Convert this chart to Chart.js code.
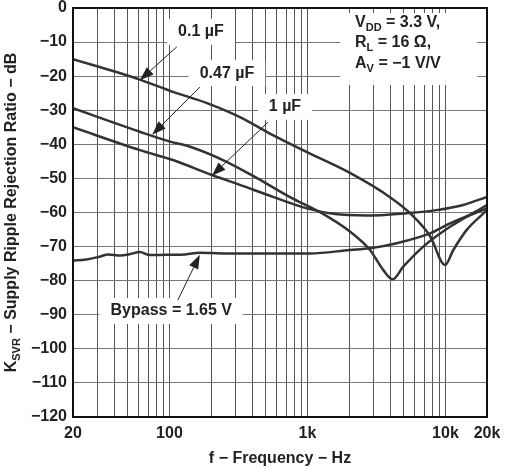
<!DOCTYPE html>
<html>
<head>
<meta charset="utf-8">
<script src="https://cdn.jsdelivr.net/npm/chart.js@4.4.0/dist/chart.umd.min.js"></script>
<style>
    html, body { margin: 0; padding: 0; background: #fff; }
    #wrap { position: relative; width: 505px; height: 468px; }
</style>
</head>
<body>
<div id="wrap"><canvas id="psrr"></canvas></div>
<script>
// --- values (frequency in Hz, KSVR in dB) ---
const freq01 = [20, 61, 106, 187, 324, 562, 993, 2032, 3963, 5534, 7727, 9930, 11400, 14260, 20000];
const ksvr01 = [-15.0, -21.0, -24.6, -27.9, -32.0, -37.3, -42.3, -48.4, -55.5, -60.2, -66.9, -75.4, -71.0, -65.1, -59.3];

const freq047 = [20, 61, 101, 141, 244, 431, 747, 1233, 2032, 2840, 3546, 4148, 4945, 6909, 10790, 20000];
const ksvr047 = [-29.4, -36.3, -39.2, -40.7, -44.6, -49.9, -55.5, -59.9, -65.6, -71.0, -76.9, -79.6, -75.9, -70.0, -64.2, -57.8];

const freq1 = [20, 61, 106, 203, 324, 562, 993, 1540, 2690, 5240, 8640, 13460, 20000];
const ksvr1 = [-35.0, -41.7, -44.6, -49.0, -51.9, -55.4, -58.8, -60.4, -60.9, -60.2, -59.3, -57.8, -55.4];

const freqBypass = [20, 25, 31, 36, 44, 52, 61, 72, 95, 130, 166, 250, 453, 1043, 2032, 2840, 4430, 7727, 10790, 20000];
const ksvrBypass = [-74.1, -73.8, -73.0, -72.3, -72.6, -72.2, -71.6, -72.5, -72.4, -72.3, -71.8, -72.0, -72.0, -72.0, -71.0, -70.5, -69.0, -66.1, -63.2, -58.8];

const xTicks = [20, 30, 40, 50, 60, 70, 80, 90, 100, 200, 300, 400, 500, 600, 700, 800, 900,
                1000, 2000, 3000, 4000, 5000, 6000, 7000, 8000, 9000, 10000, 20000];
const xTickLabels = { 20: '20', 100: '100', 1000: '1k', 10000: '10k', 20000: '20k' };

// callouts: text centre, arrow start and arrow tip, in (Hz, dB)
const callouts = [
    { text: '0.1 µF', at: [169, -7.0], from: [113, -11.4], to: [61, -21.2] },
    { text: '0.47 µF', at: [261, -19.1], from: [166, -23.2], to: [75, -37.2] },
    { text: '1 µF', at: [687, -29.0], from: [518, -33.5], to: [203, -49.2] },
    { text: 'Bypass = 1.65 V', at: [103, -88.9], from: [115, -85.7], to: [166, -72.4] }
];
const conditions = [
    [{ t: 'V' }, { t: 'DD', sub: true }, { t: ' = 3.3 V,' }],
    [{ t: 'R' }, { t: 'L', sub: true }, { t: ' = 16 Ω,' }],
    [{ t: 'A' }, { t: 'V', sub: true }, { t: ' = −1 V/V' }]
];
const conditionBox = { f: [1722, 16950], db: [-1.5, -22.6], textF: 2213, lines: [-5.6, -11.4, -17.6] };

const FONT = 'bold 16px "Liberation Sans", Arial, sans-serif';
const SUBFONT = 'bold 11px "Liberation Sans", Arial, sans-serif';
const INK = '#222';

const toPoints = (fs, ds) => fs.map((f, i) => ({ x: f, y: ds[i] }));

// draws text with subscripts, returns width
const richWidth = (ctx, parts) => parts.reduce((w, p) => {
    ctx.font = p.sub ? SUBFONT : FONT;
    return w + ctx.measureText(p.t).width;
}, 0);
const drawRich = (ctx, parts, x, y) => {
    parts.forEach(p => {
        ctx.font = p.sub ? SUBFONT : FONT;
        ctx.fillText(p.t, x, p.sub ? y + 4 : y);
        x += ctx.measureText(p.t).width;
    });
};

const drawArrow = (ctx, x1, y1, x2, y2) => {
    const a = Math.atan2(y2 - y1, x2 - x1);
    const len = 14, half = 5;
    ctx.beginPath();
    ctx.moveTo(x1, y1);
    ctx.lineTo(x2 - len * Math.cos(a), y2 - len * Math.sin(a));
    ctx.lineWidth = 1;
    ctx.strokeStyle = INK;
    ctx.stroke();
    ctx.beginPath();
    ctx.moveTo(x2, y2);
    ctx.lineTo(x2 - len * Math.cos(a) + half * Math.sin(a), y2 - len * Math.sin(a) - half * Math.cos(a));
    ctx.lineTo(x2 - len * Math.cos(a) - half * Math.sin(a), y2 - len * Math.sin(a) + half * Math.cos(a));
    ctx.closePath();
    ctx.fillStyle = INK;
    ctx.fill();
};

const notesPlugin = {
    id: 'notes',
    beforeDatasetsDraw(chart) {
        const { ctx, scales: { x, y } } = chart;
        ctx.save();
        ctx.fillStyle = '#fff';
        ctx.font = FONT;
        callouts.forEach(c => {
            const w = ctx.measureText(c.text).width;
            const cx = x.getPixelForValue(c.at[0]), cy = y.getPixelForValue(c.at[1]);
            ctx.fillRect(cx - w / 2 - 11, cy - 13, w + 22, 26);
        });
        const bx1 = x.getPixelForValue(conditionBox.f[0]), bx2 = x.getPixelForValue(conditionBox.f[1]);
        const by1 = y.getPixelForValue(conditionBox.db[0]), by2 = y.getPixelForValue(conditionBox.db[1]);
        ctx.fillRect(bx1, by1, bx2 - bx1, by2 - by1);
        ctx.restore();
    },
    afterDatasetsDraw(chart) {
        const { ctx, scales: { x, y } } = chart;
        ctx.save();
        ctx.textAlign = 'center';
        ctx.textBaseline = 'middle';
        callouts.forEach(c => {
            ctx.fillStyle = INK;
            ctx.font = FONT;
            ctx.fillText(c.text, x.getPixelForValue(c.at[0]), y.getPixelForValue(c.at[1]));
            drawArrow(ctx, x.getPixelForValue(c.from[0]), y.getPixelForValue(c.from[1]),
                x.getPixelForValue(c.to[0]), y.getPixelForValue(c.to[1]));
        });
        ctx.textAlign = 'left';
        ctx.textBaseline = 'alphabetic';
        ctx.fillStyle = INK;
        conditions.forEach((line, i) => {
            drawRich(ctx, line, x.getPixelForValue(conditionBox.textF), y.getPixelForValue(conditionBox.lines[i]));
        });
        ctx.restore();
    },
    afterDraw(chart) {
        const { ctx, chartArea: a } = chart;
        ctx.save();
        ctx.strokeStyle = '#111';
        ctx.lineWidth = 2;
        ctx.strokeRect(a.left, a.top, a.right - a.left, a.bottom - a.top);
        // y title with subscript
        const title = [{ t: 'K' }, { t: 'SVR', sub: true }, { t: ' − Supply Ripple Rejection Ratio − dB' }];
        ctx.translate(16, (a.top + a.bottom) / 2);
        ctx.rotate(-Math.PI / 2);
        ctx.fillStyle = INK;
        ctx.textBaseline = 'alphabetic';
        const w = richWidth(ctx, title);
        drawRich(ctx, title, -w / 2, 0);
        ctx.restore();
    }
};

const lineStyle = { borderColor: '#333', borderWidth: 2.5, pointRadius: 0, fill: false, cubicInterpolationMode: 'monotone' };

new Chart(document.getElementById('psrr'), {
    type: 'line',
    data: {
        datasets: [
            { label: '0.1 µF', data: toPoints(freq01, ksvr01), ...lineStyle },
            { label: '0.47 µF', data: toPoints(freq047, ksvr047), ...lineStyle },
            { label: '1 µF', data: toPoints(freq1, ksvr1), ...lineStyle },
            { label: 'Bypass = 1.65 V', data: toPoints(freqBypass, ksvrBypass), ...lineStyle }
        ]
    },
    options: {
        responsive: true,
        maintainAspectRatio: false,
        animation: false,
        layout: { padding: { top: 8, right: 18, bottom: 0, left: 0 } },
        plugins: { legend: { display: false }, tooltip: { enabled: false } },
        scales: {
            x: {
                type: 'logarithmic',
                min: 20,
                max: 20000,
                afterBuildTicks: (axis) => { axis.ticks = xTicks.map(v => ({ value: v })); },
                afterFit: (axis) => { axis.height = 51; axis.paddingLeft = 0; axis.paddingRight = 0; },
                grid: { color: '#555', lineWidth: 1, drawTicks: false },
                border: { display: false },
                ticks: {
                    autoSkip: false, maxRotation: 0, padding: 7, color: INK,
                    font: { family: '"Liberation Sans", Arial, sans-serif', size: 16, weight: 'bold' },
                    callback: (v) => xTickLabels[v] || ''
                },
                title: {
                    display: true, text: 'f − Frequency − Hz', color: INK, padding: { top: 0, bottom: 0 },
                    font: { family: '"Liberation Sans", Arial, sans-serif', size: 16, weight: 'bold' }
                }
            },
            y: {
                min: -120,
                max: 0,
                afterFit: (axis) => { axis.width = 73; axis.paddingTop = 0; axis.paddingBottom = 0; },
                grid: { color: '#777', lineWidth: 1, drawTicks: false },
                border: { display: false },
                ticks: {
                    stepSize: 10, padding: 6, color: INK,
                    font: { family: '"Liberation Sans", Arial, sans-serif', size: 16, weight: 'bold' },
                    callback: (v) => v === 0 ? '0' : '−' + Math.abs(v)
                }
            }
        }
    },
    plugins: [notesPlugin]
});
</script>
</body>
</html>
